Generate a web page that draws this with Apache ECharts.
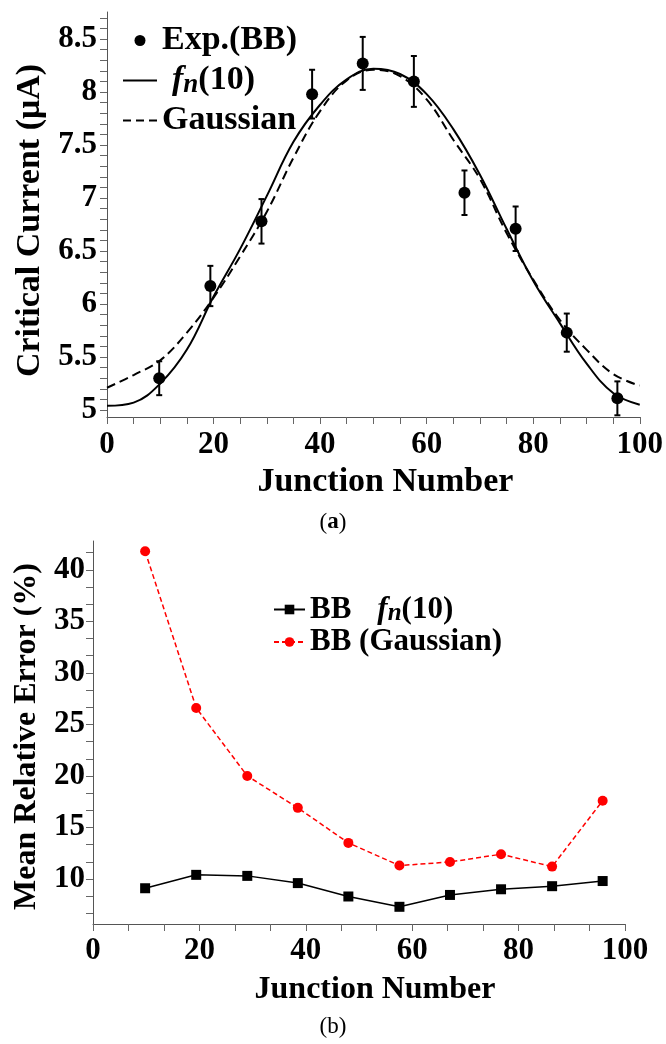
<!DOCTYPE html>
<html>
<head>
<meta charset="utf-8">
<script src="https://cdn.jsdelivr.net/npm/echarts@6/dist/echarts.min.js"></script>
<style>
  html, body { margin: 0; padding: 0; background: #fff; }
  #chart { width: 666px; height: 1044px; }
</style>
</head>
<body>
<div id="chart"></div>
<script>
// junction positions of the measured points
const junction = [9.8, 19.4, 29.0, 38.5, 48.0, 57.6, 67.1, 76.7, 86.3, 95.8]

// (a) measured critical current and its error
const expBB = [5.30, 6.17, 6.78, 7.98, 8.27, 8.10, 7.05, 6.71, 5.73, 5.11]
const expErr = [0.16, 0.19, 0.21, 0.23, 0.25, 0.24, 0.21, 0.21, 0.18, 0.16]

// (a) fitted curves
const curveX = [0, 5, 10, 15, 20, 25, 30, 35, 40, 45, 50, 55, 60, 65, 70, 75, 80, 85, 90, 95, 100]
const fnCurve = [5.04, 5.07, 5.25, 5.57, 6.07, 6.52, 7.02, 7.53, 7.88, 8.12, 8.22, 8.17, 7.98, 7.65, 7.22, 6.71, 6.22, 5.82, 5.44, 5.16, 5.05]
const gaussCurve = [5.21, 5.33, 5.47, 5.73, 6.06, 6.45, 6.87, 7.38, 7.82, 8.11, 8.21, 8.15, 7.93, 7.55, 7.18, 6.67, 6.23, 5.85, 5.57, 5.34, 5.23]

// (b) mean relative error (%)
const mreFn = [9.1, 10.4, 10.3, 9.6, 8.3, 7.3, 8.45, 9.0, 9.3, 9.8]
const mreGauss = [41.8, 26.6, 20.0, 16.9, 13.5, 11.3, 11.65, 12.4, 11.2, 17.6]

// tick labels
const yLabelsA = [5, 5.5, 6, 6.5, 7, 7.5, 8, 8.5]
const yLabelsB = [10, 15, 20, 25, 30, 35, 40]

const serif = 'Liberation Serif'

const yTicksA = []
for (let i = 50; i <= 87; i++) yTicksA.push(i / 10)
const yTicksB = []
for (let i = 4; i <= 25; i++) yTicksB.push(i * 5 / 3)

const zip = (xs, ys) => xs.map((x, i) => [x, ys[i]])

// legend icons for the plain curves (line only, no marker)
const solidIcon = 'path://M0,0L34,0L34,2L0,2Z'
const dashIcon = 'path://M0,0L8,0L8,2L0,2Z M13,0L21,0L21,2L13,2Z M26,0L34,0L34,2L26,2Z'

const axisLine = { lineStyle: { color: '#555', width: 1 } }
const tick = { show: true, length: 7, lineStyle: { color: '#666', width: 1 } }
const tickLabel = { color: '#000', fontFamily: serif, fontWeight: 'bold', fontSize: 31 }
const nameStyle = { color: '#000', fontFamily: serif, fontWeight: 'bold', fontSize: 34 }

const fnRich = {
  b: { fontFamily: serif, fontWeight: 'bold', fontSize: 34, color: '#000' },
  i: { fontFamily: serif, fontStyle: 'italic', fontSize: 34, color: '#000' },
  s: { fontFamily: serif, fontStyle: 'italic', fontSize: 27, color: '#000', padding: [10, 0, 0, 0] },
  g: { width: 10 },
  b2: { fontFamily: serif, fontWeight: 'bold', fontSize: 31, color: '#000' },
  i2: { fontFamily: serif, fontStyle: 'italic', fontSize: 31, color: '#000' },
  s2: { fontFamily: serif, fontStyle: 'italic', fontSize: 25, color: '#000', padding: [9, 0, 0, 0] },
  g2: { width: 26 }
}

const chart = echarts.init(document.getElementById('chart'))

chart.setOption({
  backgroundColor: '#fff',
  animation: false,
  grid: [
    { left: 107, right: 24, top: 12, height: 405 },
    { left: 93, right: 41, top: 541, height: 383 }
  ],
  xAxis: [
    {
      gridIndex: 0, type: 'value', min: 0, max: 100, interval: 20,
      axisLine, axisTick: tick,
      minorTick: { show: true, splitNumber: 4, length: 7, lineStyle: { color: '#666' } },
      axisLabel: Object.assign({ margin: 12 }, tickLabel),
      splitLine: { show: false },
      name: 'Junction Number', nameLocation: 'middle', nameGap: 48,
      nameTextStyle: Object.assign({ padding: [0, 0, 0, 24] }, nameStyle)
    },
    {
      gridIndex: 1, type: 'value', min: 0, max: 100, interval: 20,
      axisLine, axisTick: tick,
      minorTick: { show: true, splitNumber: 3, length: 7, lineStyle: { color: '#666' } },
      axisLabel: Object.assign({ margin: 11 }, tickLabel),
      splitLine: { show: false },
      name: 'Junction Number', nameLocation: 'middle', nameGap: 50,
      nameTextStyle: Object.assign({}, nameStyle, { fontSize: 32, padding: [0, 0, 0, 32] })
    }
  ],
  yAxis: [
    {
      gridIndex: 0, type: 'value', min: 4.934, max: 8.755,
      axisLine: Object.assign({ show: true }, axisLine),
      axisTick: Object.assign({ customValues: yTicksA }, tick),
      axisLabel: Object.assign({ margin: 10, customValues: yLabelsA }, tickLabel),
      splitLine: { show: false },
      name: 'Critical Current (μA)', nameLocation: 'middle', nameGap: 53,
      nameTextStyle: Object.assign({}, nameStyle, { padding: [0, 12, 0, 0] })
    },
    {
      gridIndex: 1, type: 'value', min: 5.63, max: 42.8,
      axisLine: Object.assign({ show: true }, axisLine),
      axisTick: Object.assign({ customValues: yTicksB }, tick),
      axisLabel: Object.assign({ margin: 8, customValues: yLabelsB }, tickLabel),
      splitLine: { show: false },
      name: 'Mean Relative Error (%)', nameLocation: 'middle', nameGap: 37,
      nameTextStyle: Object.assign({}, nameStyle, { fontSize: 32, padding: [0, 8, 0, 0] })
    }
  ],
  legend: [
    {
      left: 118, top: 17, orient: 'vertical',
      itemWidth: 34, itemHeight: 11, itemGap: 3,
      data: [
        { name: 'Exp.(BB)' },
        { name: 'fn(10)', icon: solidIcon },
        { name: 'Gaussian', icon: dashIcon }
      ],
      textStyle: { fontFamily: serif, fontWeight: 'bold', fontSize: 34, color: '#000', lineHeight: 37, rich: fnRich },
      formatter: name => name === 'fn(10)' ? '{g|}{i|f}{s|n}{b|(10)}' : '{b|' + name + '}'
    },
    {
      left: 268, top: 589, orient: 'vertical',
      itemWidth: 31, itemHeight: 12, itemGap: 0,
      data: ['BB fn(10)', 'BB (Gaussian)'],
      textStyle: { fontFamily: serif, fontWeight: 'bold', fontSize: 31, color: '#000', lineHeight: 30, rich: fnRich },
      formatter: name => name === 'BB fn(10)' ? '{b2|BB}{g2|}{i2|f}{s2|n}{b2|(10)}' : '{b2|' + name + '}'
    }
  ],
  graphic: [
    {
      type: 'text', left: 'center', top: 511,
      style: {
        text: '({a|a})', fontFamily: serif, fontSize: 23, fill: '#000',
        rich: { a: { fontFamily: serif, fontSize: 23, fontWeight: 'bold' } }
      }
    },
    {
      type: 'text', left: 'center', top: 1015,
      style: { text: '(b)', fontFamily: serif, fontSize: 23, fill: '#000' }
    }
  ],
  series: [
    {
      name: 'fn(10)', type: 'line', xAxisIndex: 0, yAxisIndex: 0,
      data: zip(curveX, fnCurve), smooth: 0.4, symbol: 'none',
      lineStyle: { color: '#000', width: 2 }, itemStyle: { color: '#000' }
    },
    {
      name: 'Gaussian', type: 'line', xAxisIndex: 0, yAxisIndex: 0,
      data: zip(curveX, gaussCurve), smooth: 0.4, symbol: 'none',
      lineStyle: { color: '#000', width: 2, type: [9, 5] }, itemStyle: { color: '#000' }
    },
    {
      name: 'Exp.(BB) error', type: 'custom', xAxisIndex: 0, yAxisIndex: 0,
      data: junction.map((x, i) => [x, expBB[i] - expErr[i], expBB[i] + expErr[i]]),
      renderItem(params, api) {
        const lo = api.coord([api.value(0), api.value(1)])
        const hi = api.coord([api.value(0), api.value(2)])
        const style = { stroke: '#000', lineWidth: 2 }
        return {
          type: 'group',
          children: [
            { type: 'line', shape: { x1: lo[0], y1: lo[1], x2: hi[0], y2: hi[1] }, style },
            { type: 'line', shape: { x1: lo[0] - 3, y1: lo[1], x2: lo[0] + 3, y2: lo[1] }, style },
            { type: 'line', shape: { x1: hi[0] - 3, y1: hi[1], x2: hi[0] + 3, y2: hi[1] }, style }
          ]
        }
      }
    },
    {
      name: 'Exp.(BB)', type: 'scatter', xAxisIndex: 0, yAxisIndex: 0,
      data: zip(junction, expBB), symbol: 'circle', symbolSize: 12,
      itemStyle: { color: '#000', opacity: 1 }
    },
    {
      name: 'BB fn(10)', type: 'line', xAxisIndex: 1, yAxisIndex: 1,
      data: zip(junction, mreFn), symbol: 'rect', symbolSize: 10,
      lineStyle: { color: '#000', width: 1.5 }, itemStyle: { color: '#000' }
    },
    {
      name: 'BB (Gaussian)', type: 'line', xAxisIndex: 1, yAxisIndex: 1,
      data: zip(junction, mreGauss), symbol: 'circle', symbolSize: 10,
      lineStyle: { color: '#ff0000', width: 1.5, type: [5, 3] }, itemStyle: { color: '#ff0000' }
    }
  ]
})
</script>
</body>
</html>
